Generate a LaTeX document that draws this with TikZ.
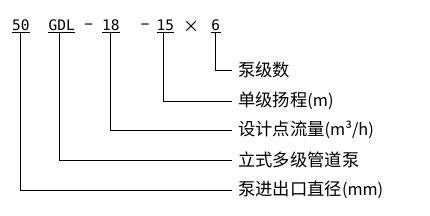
\documentclass[tikz,border=0pt]{standalone}
\usepackage{fontspec}
\newfontfamily\cjk{Noto Sans CJK SC}
\newfontfamily\topfont{DejaVu Sans Mono}
\newcommand\paren[1]{{\fontsize{16.3}{16}\selectfont #1}}
\begin{document}
\begin{tikzpicture}[x=1pt,y=-1pt,
  tok/.style={inner sep=0pt, anchor=base west, text height=10pt, text depth=2pt,
    font=\topfont\fontsize{14.5}{14.5}\selectfont},
  sym/.style={inner sep=0pt, font=\topfont\fontsize{14.5}{14.5}\selectfont},
  lab/.style={anchor=west, inner xsep=6pt, inner ysep=0pt,
    font=\cjk\fontsize{17.3}{18}\selectfont},
  ln/.style={line width=0.9pt, black}]
\useasboundingbox (0,0) rectangle (430,215);
% top row tokens
\node[tok, minimum width=17pt] (t50) at (12,30) {50};
\node[tok, minimum width=27pt] (tgdl) at (48,30) {GDL};
\node[sym] (d1) at (88.5,26.5) {\scalebox{2}[1]{-}};
\node[tok, minimum width=17pt] (t18) at (102,30) {18};
\node[sym] (d2) at (145,26.5) {\scalebox{2}[1]{-}};
\node[tok, minimum width=17pt] (t15) at (156.5,30) {15};
\node[inner sep=0pt, font=\cjk\fontsize{16}{16}\selectfont] (x) at (191,26.5) {×};
\node[tok, minimum width=10pt] (t6) at (210.5,30) {6};
% underlines
\foreach \n in {t50,tgdl,t18,t15,t6}
  \draw[ln] (\n.south west) -- (\n.south east);
% labels
\node[lab] (l6) at (232,70) {泵级数};
\node[lab] (l15) at (232,101) {单级扬程\paren{(m)}};
\node[lab] (l18) at (232,130) {设计点流量\paren{(m³/h)}};
\node[lab] (lgdl) at (232,160) {立式多级管道泵};
\node[lab] (l50) at (232,190) {泵进出口直径\paren{(mm)}};
% connectors
\draw[ln] (t6.south) |- (l6.west);
\draw[ln] ([xshift=-2pt]t15.south) |- (l15.west);
\draw[ln] (t18.south) |- (l18.west);
\draw[ln] ([xshift=-2.5pt]tgdl.south) |- (lgdl.west);
\draw[ln] (t50.south) |- (l50.west);
\end{tikzpicture}
\end{document}
